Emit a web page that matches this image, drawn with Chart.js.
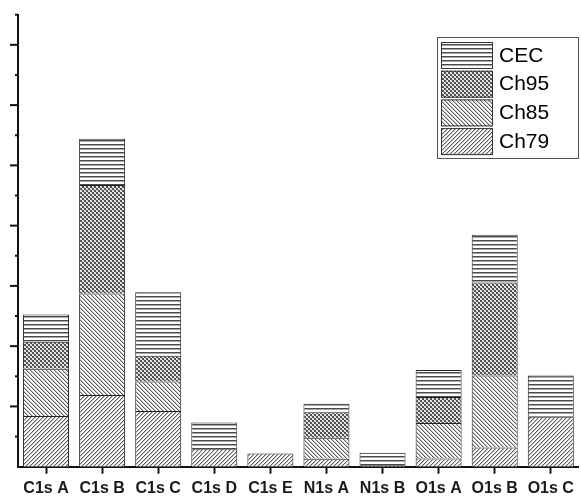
<!DOCTYPE html>
<html>
<head>
<meta charset="utf-8">
<script src="https://cdn.jsdelivr.net/npm/chart.js@4"></script>
<style>
   html, body { margin: 0; padding: 0; background: #ffffff; }
   #wrap { width: 581px; height: 496px; }
</style>
</head>
<body>
<div id="wrap"><canvas id="chart" width="581" height="496"></canvas></div>
<script>
// values, one unit = one small y tick
const categories = ["C1s A", "C1s B", "C1s C", "C1s D", "C1s E", "N1s A", "N1s B", "O1s A", "O1s B", "O1s C"];
const ch79 = [1.68, 2.38, 1.85, 0.58, 0.44, 0.26, 0.05, 0.27, 0.64, 1.66];
const ch85 = [1.57, 3.37, 0.98, null, null, 0.70, null, 1.18, 2.39, null];
const ch95 = [0.90, 3.60, 0.85, null, null, 0.85, null, 0.86, 3.08, null];
const cec  = [0.90, 1.53, 2.11, 0.89, null, 0.28, 0.41, 0.90, 1.59, 1.37];
const yTicks = [0, 1, 2, 3, 4, 5, 6, 7, 8, 9, 10, 11, 12, 13, 14, 15];

function makePattern(kind) {
   const c = document.createElement("canvas");
   c.width = 4;
   c.height = 4;
   const p = c.getContext("2d");
   p.fillStyle = "#ffffff";
   p.fillRect(0, 0, 4, 4);
   if (kind === "hlines") {
      p.fillStyle = "#4a4a4a";
      p.fillRect(0, 0, 4, 1);
      p.fillStyle = "#a8a8a8";
      p.fillRect(0, 1, 4, 1);
   } else if (kind === "dots") {
      p.fillStyle = "#c4c4c4";
      p.fillRect(0, 0, 4, 4);
      p.fillStyle = "#505050";
      p.fillRect(0, 0, 2, 2);
      p.fillRect(2, 2, 2, 2);
      p.fillStyle = "#ffffff";
      p.fillRect(2, 0, 1, 1);
      p.fillRect(0, 2, 1, 1);
      p.fillRect(3, 1, 1, 1);
      p.fillRect(1, 3, 1, 1);
   } else {
      for (let i = 0; i < 4; i++) {
         const x = kind === "back" ? i : 3 - i;
         p.fillStyle = "#5e5e5e";
         p.fillRect(x, i, 1, 1);
         p.fillStyle = "#c0c0c0";
         p.fillRect((x + 1) % 4, i, 1, 1);
      }
   }
   return p.createPattern(c, "repeat");
}

const yAxisTicks = {
   id: "yAxisTicks",
   afterDraw(chart) {
      const ctx = chart.ctx;
      const y = chart.scales.y;
      const left = chart.chartArea.left;
      ctx.save();
      ctx.strokeStyle = "#111111";
      ctx.lineWidth = 2;
      yTicks.forEach(v => {
         if (v === 0) return;
         const py = y.getPixelForValue(v);
         const len = v % 2 === 0 ? 8 : 3;
         ctx.beginPath();
         ctx.moveTo(left - len, py);
         ctx.lineTo(left, py);
         ctx.stroke();
      });
      ctx.restore();
   }
};

const boxLegend = {
   id: "boxLegend",
   afterDraw(chart) {
      const ctx = chart.ctx;
      const sets = chart.data.datasets.slice().reverse();
      ctx.save();
      ctx.strokeStyle = "#555555";
      ctx.lineWidth = 1;
      ctx.strokeRect(437.5, 37.5, 141, 121);
      sets.forEach((ds, i) => {
         const top = 42 + i * 28.7;
         ctx.fillStyle = ds.backgroundColor;
         ctx.fillRect(441, top, 52, 27);
         ctx.strokeStyle = "#333333";
         ctx.strokeRect(441.5, top + 0.5, 51, 26);
         ctx.fillStyle = "#000000";
         ctx.font = "21px 'Liberation Sans', Arial, sans-serif";
         ctx.textBaseline = "middle";
         ctx.fillText(ds.label, 499, top + 14);
      });
      ctx.restore();
   }
};

document.addEventListener("DOMContentLoaded", function () {
   const ctx = document.getElementById("chart").getContext("2d");
   const barStyle = { borderColor: "#222222", borderWidth: 1, barPercentage: 0.82, categoryPercentage: 1.0 };
   new Chart(ctx, {
      type: "bar",
      data: {
         labels: categories,
         datasets: [
            Object.assign({ label: "Ch79", data: ch79, backgroundColor: makePattern("fwd") }, barStyle),
            Object.assign({ label: "Ch85", data: ch85, backgroundColor: makePattern("back") }, barStyle),
            Object.assign({ label: "Ch95", data: ch95, backgroundColor: makePattern("dots") }, barStyle),
            Object.assign({ label: "CEC", data: cec, backgroundColor: makePattern("hlines") }, barStyle)
         ]
      },
      options: {
         responsive: false,
         animation: false,
         layout: { padding: { left: 18, right: 2, top: 14.7, bottom: -7.7 } },
         scales: {
            x: {
               stacked: true,
               grid: { display: true, drawOnChartArea: false, offset: false, tickLength: 7, tickColor: "#111111", tickWidth: 2 },
               border: { display: true, color: "#111111", width: 2 },
               ticks: { color: "#1a1a1a", padding: 7, font: { family: "'Liberation Sans', Arial, sans-serif", size: 16, weight: "bold", lineHeight: 1 } }
            },
            y: {
               stacked: true,
               min: 0,
               max: 15,
               grid: { display: false, drawTicks: false, tickLength: 0 },
               border: { display: true, color: "#111111", width: 2 },
               ticks: { display: false, stepSize: 1 }
            }
         },
         plugins: {
            legend: { display: false },
            tooltip: { enabled: false }
         }
      },
      plugins: [yAxisTicks, boxLegend]
   });
});
</script>
</body>
</html>
